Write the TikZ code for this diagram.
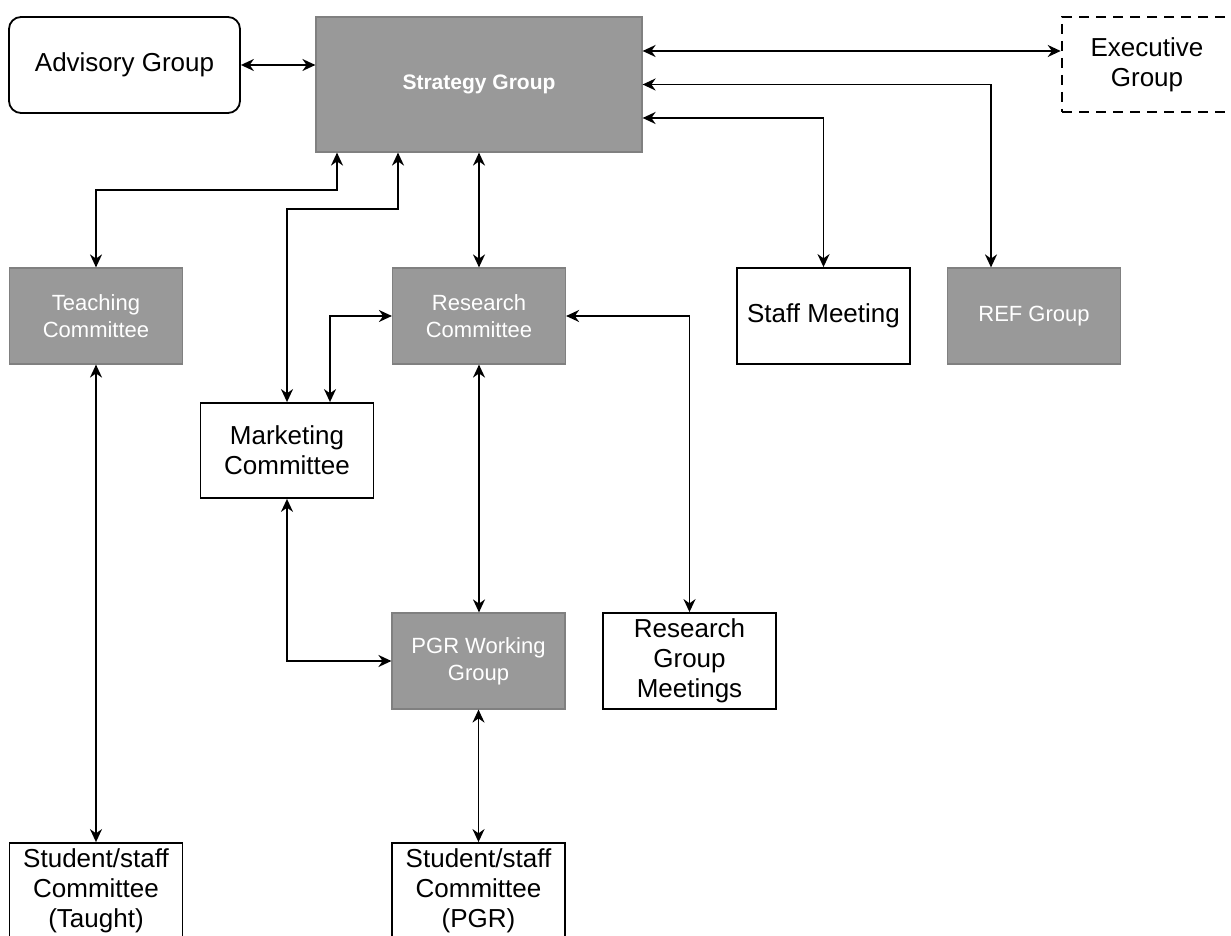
\documentclass[tikz,border=0pt]{standalone}
\usepackage{fontspec}
\setmainfont{Liberation Sans}
\usetikzlibrary{arrows.meta}

\definecolor{boxGray}{rgb}{0.60,0.60,0.60}
\definecolor{edgeGray}{rgb}{0.50,0.50,0.50}

\tikzset{
  plainbox/.style={draw=black,line width=1.8pt,fill=white,minimum width=173pt,
    minimum height=96pt,align=center,inner sep=2pt,
    font=\fontsize{26}{30}\selectfont},
  greybox/.style={draw=edgeGray,line width=1.2pt,fill=boxGray,text=white,
    minimum width=173pt,minimum height=96pt,align=center,inner sep=2pt,
    font=\fontsize{22}{27}\selectfont},
  link/.style={line width=1.8pt,
    {Stealth[length=13pt,width=12pt]}-{Stealth[length=13pt,width=12pt]}},
}

\begin{document}
\begin{tikzpicture}[x=1pt,y=1pt]
\path[use as bounding box,fill=white] (0,0) rectangle (1231,935);

% top row
\node[plainbox,rounded corners=12pt,minimum width=231pt] (adv) at (124.5,870) {Advisory Group};
\node[greybox,minimum width=326pt,minimum height=135pt,font=\fontsize{21}{25}\selectfont\bfseries] (strat) at (479,850.5) {Strategy Group};
\node[plainbox,dashed,dash pattern=on 10pt off 7pt,line width=2.6pt,minimum width=170pt,minimum height=95pt] (exec) at (1147,870.5) {Executive\\Group};

% committees
\node[greybox] (teach) at (96,619) {Teaching\\Committee};
\node[greybox] (resc) at (479,619) {Research\\Committee};
\node[plainbox] (staff) at (823.5,619) {Staff Meeting};
\node[greybox] (ref) at (1034,619) {REF Group};
\node[plainbox,minimum height=95pt] (mkt) at (287,484.5) {Marketing\\Committee};
\node[greybox] (pgr) at (478.5,274) {PGR Working\\Group};
\node[plainbox] (rgm) at (689.5,274) {Research\\Group\\Meetings};
\node[plainbox] (stut) at (96,44) {Student/staff\\Committee\\(Taught)};
\node[plainbox] (stup) at (478.5,44) {Student/staff\\Committee\\(PGR)};

% links
\draw[link] (adv.east) -- (adv.east -| strat.west);
\draw[link] ([yshift=33.5pt]strat.east) -- ([yshift=13.5pt]exec.west);
\draw[link] (strat.east) -| ([xshift=-43pt]ref.north);
\draw[link] ([yshift=-33.5pt]strat.east) -| (staff.north);
\draw[link] (teach.north) -- ++(0,77) -| ([xshift=-142pt]strat.south);
\draw[link] (mkt.north) -- ++(0,193) -| ([xshift=-81pt]strat.south);
\draw[link] (strat.south) -- (resc.north);
\draw[link] (resc.west) -| ([xshift=43pt]mkt.north);
\draw[link] (resc.east) -| (rgm.north);
\draw[link] (resc.south) -- (resc.south |- pgr.north);
\draw[link] (mkt.south) |- (pgr.west);
\draw[link] (teach.south) -- (stut.north);
\draw[link] (pgr.south) -- (stup.north);
\end{tikzpicture}
\end{document}
